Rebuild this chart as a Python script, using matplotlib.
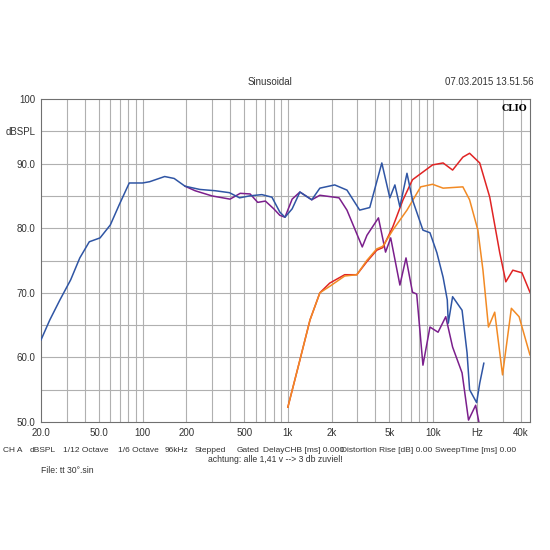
import matplotlib
matplotlib.use("Agg")
import matplotlib.pyplot as plt
import numpy as np

plt.rcParams["font.family"] = ["Liberation Sans", "DejaVu Sans"]

# frequency response curves (Hz, dBSPL)
blue_f = [20, 23, 27, 32, 37, 43, 51, 60, 69, 81, 100, 112, 142, 165, 196, 248, 316, 396, 465,
          544, 662, 777, 880, 955, 1070, 1210, 1460, 1660, 2100, 2550, 3120, 3660, 4430, 5030,
          5450, 5900, 6600, 7200, 8500, 9500, 10600, 11700, 12500, 12700, 13600, 15800, 17100,
          17800, 19900, 20900, 22300]
blue_db = [62.7, 65.8, 68.9, 72.0, 75.4, 77.9, 78.5, 80.5, 83.6, 87.0, 87.0, 87.2, 88.0, 87.7,
           86.5, 86.0, 85.8, 85.5, 84.7, 85.0, 85.2, 84.8, 82.5, 81.7, 83.0, 85.6, 84.4, 86.2,
           86.7, 85.9, 82.8, 83.2, 90.1, 84.7, 86.7, 83.3, 88.5, 84.4, 79.7, 79.3, 76.2, 72.4,
           68.9, 65.3, 69.4, 67.3, 60.7, 55.0, 53.0, 56.0, 59.1]

purple_f = [196, 230, 300, 400, 470, 550, 620, 700, 800, 880, 955, 1070, 1210, 1460, 1660, 2250,
            2550, 3250, 3500, 4200, 4700, 5100, 5900, 6500, 7200, 7700, 8500, 9500, 10800, 12200,
            13600, 15800, 17500, 19600, 20700]
purple_db = [86.5, 85.8, 85.0, 84.5, 85.4, 85.3, 84.0, 84.2, 83.0, 82.0, 81.7, 84.5, 85.6, 84.4,
             85.1, 84.7, 82.8, 77.1, 78.9, 81.6, 76.3, 78.5, 71.2, 75.4, 70.1, 69.8, 58.8, 64.7,
             63.9, 66.3, 61.6, 57.6, 50.3, 52.6, 49.8]

red_f = [1000, 1210, 1420, 1660, 1940, 2460, 2980, 3490, 4090, 4500, 5270, 6200, 7200, 8500,
         9900, 11700, 13600, 16000, 17800, 20900, 24500, 28700, 31600, 35300, 40800, 46300]
red_db = [52.3, 59.6, 65.8, 70.0, 71.5, 72.8, 72.8, 74.8, 76.6, 77.0, 80.2, 84.4, 87.5, 88.7,
          89.8, 90.1, 89.0, 91.0, 91.6, 90.1, 84.8, 76.2, 71.7, 73.5, 73.1, 70.1]

orange_f = [1000, 1210, 1420, 1660, 1940, 2460, 2980, 3490, 4090, 4500, 5270, 6600, 8200, 9900,
            11700, 16000, 17800, 20300, 22000, 24000, 26500, 30000, 34500, 39000, 46300]
orange_db = [52.3, 59.6, 65.8, 70.0, 71.0, 72.6, 72.8, 75.0, 76.8, 77.2, 79.7, 82.8, 86.4, 86.8,
             86.2, 86.4, 84.4, 79.7, 73.5, 64.7, 67.0, 57.3, 67.6, 66.3, 60.4]

xticks = [20, 50, 100, 200, 500, 1000, 2000, 5000, 10000, 20000, 40000]
xlabels = ["20.0", "50.0", "100", "200", "500", "1k", "2k", "5k", "10k", "Hz", "40k"]
yticks = [50, 60, 70, 80, 90, 95, 100]
ylabels = ["50.0", "60.0", "70.0", "80.0", "90.0", "dBSPL", "100"]

fig = plt.figure(figsize=(5.5, 5.5), dpi=100, facecolor="white")
ax = fig.add_axes([0.0745, 0.2327, 0.889, 0.5873])
ax.set_xscale("log")
ax.set_xlim(20, 46300)
ax.set_ylim(50, 100)

# CLIO-style grid: every decade subdivision and every 5 dB
grid_f = [m * 10 ** e for e in range(1, 5) for m in range(1, 10)]
for f in grid_f:
    if 20 < f < 46300:
        ax.axvline(f, color="#b0b0b0", lw=0.8, zorder=0)
for d in range(55, 100, 5):
    ax.axhline(d, color="#b0b0b0", lw=0.8, zorder=0)

ax.plot(blue_f, blue_db, color="#2f55a4", lw=1.1, zorder=4)
ax.plot(purple_f, purple_db, color="#7b1f8c", lw=1.1, zorder=3)
ax.plot(red_f, red_db, color="#e02424", lw=1.1, zorder=3)
ax.plot(orange_f, orange_db, color="#f28a24", lw=1.1, zorder=3)

ax.set_xticks(xticks)
ax.set_xticklabels(xlabels)
ax.xaxis.set_minor_locator(matplotlib.ticker.NullLocator())
ax.set_yticks(yticks)
ax.set_yticklabels(ylabels)
ax.tick_params(length=0, labelsize=7, colors="#333333", pad=4)
for s in ax.spines.values():
    s.set_color("#707070")

ax.text(0.995, 0.985, "CLIO", transform=ax.transAxes, ha="right", va="top",
        fontsize=6.5, fontweight="bold", family="DejaVu Serif")
fig.text(0.49, 0.845, "Sinusoidal", ha="center", fontsize=7, color="#333333")
fig.text(0.97, 0.845, "07.03.2015 13.51.56", ha="right", fontsize=7, color="#333333")

# footer status line, left edges in pixels from the screenshot
footer = [(3, "CH A"), (30, "dBSPL"), (63, "1/12 Octave"), (118, "1/6 Octave"),
          (165, "96kHz"), (195, "Stepped"), (237, "Gated"), (263, "DelayCHB [ms] 0.000"),
          (341, "Distortion Rise [dB] 0.00"), (435, "SweepTime [ms] 0.00")]
for x, t in footer:
    fig.text(x / 550, 0.178, t, ha="left", fontsize=6.0, color="#333333")
fig.text(0.5, 0.16, "achtung: alle 1,41 v --> 3 db zuviel!", ha="center", fontsize=6.2,
         color="#333333")
fig.text(0.075, 0.14, "File: tt 30\u00b0.sin", fontsize=6.2, color="#333333")

fig.savefig("out.png", dpi=100, facecolor="white")
